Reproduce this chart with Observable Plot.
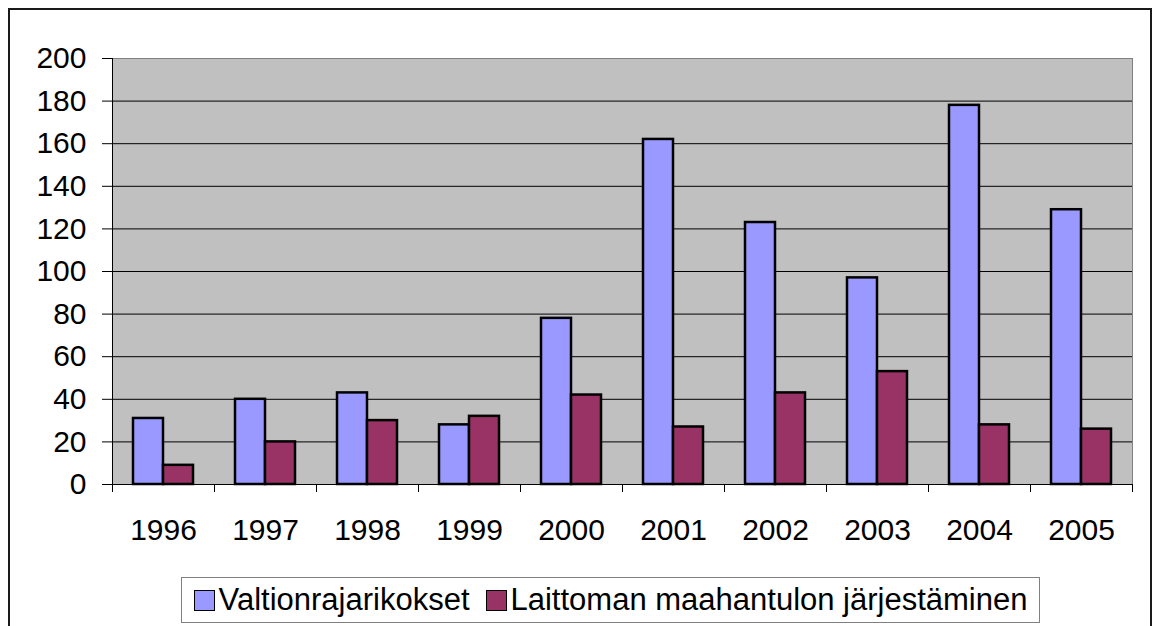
<!DOCTYPE html>
<html>
<head>
<meta charset="utf-8">
<script src="https://cdn.jsdelivr.net/npm/d3@7"></script>
<script src="https://cdn.jsdelivr.net/npm/@observablehq/plot@0.6"></script>
<style>
  html, body { margin: 0; padding: 0; background: #fff; overflow: hidden; }
  body { width: 1154px; height: 626px; position: relative; font-family: "Liberation Sans", Arial, sans-serif; }
  #outer { position: absolute; left: 8px; top: 8px; width: 1140px; height: 700px; border: 2px solid #1a1a1a; }
  #chart { position: absolute; left: 0; top: 0; }
  #legend { position: absolute; left: 181px; top: 577px; width: 857px; height: 44px; border: 1px solid #808080;
    display: flex; align-items: center; justify-content: center; font-size: 31px; color: #000; white-space: nowrap; background: #fff; }
  .item { display: flex; align-items: center; }
  .sw { width: 19px; height: 19px; border: 1px solid #000; margin-right: 4px; }
  .gap { width: 16px; }
</style>
</head>
<body>
<div id="outer"></div>
<div id="chart"></div>
<div id="legend"></div>
<script>
const years = ["1996","1997","1998","1999","2000","2001","2002","2003","2004","2005"];
const seriesNames = ["Valtionrajarikokset", "Laittoman maahantulon järjestäminen"];
const valtion = [31, 40, 43, 28, 78, 162, 123, 97, 178, 129];
const laittoman = [9, 20, 30, 32, 42, 27, 43, 53, 28, 26];
const yTicks = [0, 20, 40, 60, 80, 100, 120, 140, 160, 180, 200];
const colors = ["#9999ff", "#993366"];

const dataA = years.map((y, i) => ({year: y, value: valtion[i]}));
const dataB = years.map((y, i) => ({year: y, value: laittoman[i]}));

const chart = Plot.plot({
  width: 1154,
  height: 540,
  marginLeft: 112,
  marginRight: 22,
  marginTop: 58,
  marginBottom: 56,
  style: {fontFamily: "'Liberation Sans', Arial, sans-serif", fontSize: "30px", color: "#000", background: "transparent", overflow: "visible"},
  x: {domain: years, padding: 0, axis: null, label: null},
  y: {domain: [0, 200], axis: null, label: null},
  marks: [
    Plot.frame({fill: "#c0c0c0", stroke: "#808080"}),
    Plot.ruleY(yTicks.filter(d => d > 0 && d < 200), {stroke: "#000", strokeWidth: 1}),
    Plot.barY(dataA, {x: "year", y: "value", fill: colors[0], stroke: "#000", strokeWidth: 2.5, insetLeft: 21, insetRight: 51}),
    Plot.barY(dataB, {x: "year", y: "value", fill: colors[1], stroke: "#000", strokeWidth: 2.5, insetLeft: 51, insetRight: 21}),
    // axis lines
    Plot.ruleY([0], {stroke: "#000", strokeWidth: 1}),
    Plot.ruleX([years[0]], {x: d => d, dx: -51, stroke: "#000", strokeWidth: 1}),
    // x boundary ticks
    Plot.ruleX(years, {x: d => d, dx: -51, y1: 0, y2: 0, insetBottom: -8, stroke: "#000"}),
    Plot.ruleX([years[years.length - 1]], {x: d => d, dx: 51, y1: 0, y2: 0, insetBottom: -8, stroke: "#000"}),
    Plot.axisY({ticks: yTicks, tickSize: 10, tickPadding: 16, fontSize: 30, stroke: "#000", label: null}),
    Plot.axisX({tickSize: 0, tickPadding: 34, fontSize: 30, label: null})
  ]
});
document.getElementById("chart").appendChild(chart);

const legend = document.getElementById("legend");
seriesNames.forEach((name, i) => {
  if (i > 0) { const g = document.createElement("div"); g.className = "gap"; legend.appendChild(g); }
  const item = document.createElement("div");
  item.className = "item";
  const sw = document.createElement("div");
  sw.className = "sw";
  sw.style.background = colors[i];
  const t = document.createElement("span");
  t.textContent = name;
  item.appendChild(sw);
  item.appendChild(t);
  legend.appendChild(item);
});
</script>
</body>
</html>
